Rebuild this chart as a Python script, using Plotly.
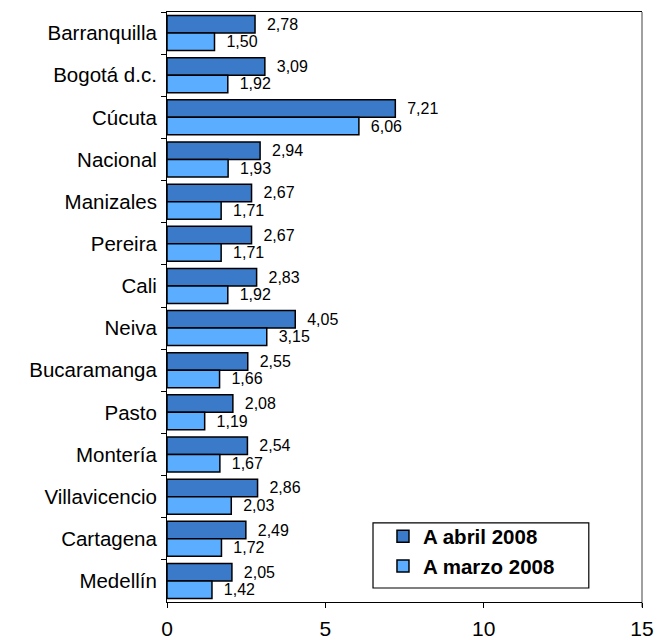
import plotly.graph_objects as go

cities = ["Barranquilla", "Bogotá d.c.", "Cúcuta", "Nacional", "Manizales", "Pereira",
          "Cali", "Neiva", "Bucaramanga", "Pasto", "Montería", "Villavicencio",
          "Cartagena", "Medellín"]
abril_2008 = [2.78, 3.09, 7.21, 2.94, 2.67, 2.67, 2.83, 4.05, 2.55, 2.08, 2.54, 2.86, 2.49, 2.05]
marzo_2008 = [1.50, 1.92, 6.06, 1.93, 1.71, 1.71, 1.92, 3.15, 1.66, 1.19, 1.67, 2.03, 1.72, 1.42]
x_ticks = [0, 5, 10, 15]

FONT = "Liberation Sans, Arial, sans-serif"
PAD = "\u00a0\u00a0"

fig = go.Figure()
fig.add_trace(go.Bar(
    y=cities, x=abril_2008, orientation="h", name="A abril 2008",
    marker=dict(color="#3A7AC8", line=dict(color="black", width=1.5)),
    texttemplate=PAD + "%{x:.2f}", textposition="outside", constraintext="none",
    textfont=dict(size=16, color="black", family=FONT), cliponaxis=False,
))
fig.add_trace(go.Bar(
    y=cities, x=marzo_2008, orientation="h", name="A marzo 2008",
    marker=dict(color="#5BADFF", line=dict(color="black", width=1.5)),
    texttemplate=PAD + "%{x:.2f}", textposition="outside", constraintext="none",
    textfont=dict(size=16, color="black", family=FONT), cliponaxis=False,
))

fig.update_layout(
    width=663, height=640,
    margin=dict(l=159, r=29, t=4, b=46),
    paper_bgcolor="white", plot_bgcolor="white",
    barmode="group", bargap=0.17, bargroupgap=0,
    separators=",.",
    font=dict(family=FONT, color="black"),
    showlegend=True,
    legend=dict(
        x=0.4547, xanchor="left", y=0.0856, yanchor="middle",
        bgcolor="rgba(0,0,0,0)", borderwidth=0,
        font=dict(size=20.5, family=FONT, color="black", weight="bold"),
        tracegroupgap=0,
    ),
    xaxis=dict(
        range=[0, 15], tickvals=x_ticks, ticks="outside", ticklen=5, tickcolor="black",
        showline=True, linecolor="black", linewidth=1, mirror=True,
        showgrid=False, zeroline=False, tickfont=dict(size=21),
        ticklabelstandoff=3, automargin=False,
    ),
    yaxis=dict(
        autorange="reversed", tickson="boundaries", ticks="outside", ticklen=5,
        tickcolor="black", showline=True, linecolor="black", linewidth=1,
        showgrid=False, tickfont=dict(size=20.5), ticklabelstandoff=5,
        automargin=False,
    ),
    shapes=[
        dict(type="line", xref="paper", yref="paper", x0=1, x1=1, y0=-0.009, y1=1,
             line=dict(color="#808080", width=1.5), layer="below"),
        dict(type="rect", xref="paper", yref="paper", x0=0.4337, x1=0.888,
             y0=0.0237, y1=0.134, line=dict(color="black", width=1.2),
             fillcolor="white", layer="above"),
    ],
)

fig.write_html("out.html")
